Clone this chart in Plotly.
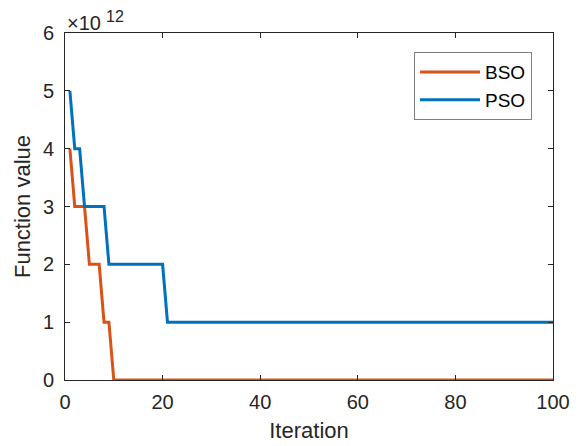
import plotly.graph_objects as go

iterations = list(range(1, 101))
bso_values = [4, 3, 3, 3, 2, 2, 2, 1, 1] + [0] * 91
pso_values = [5, 4, 4, 3, 3, 3, 3, 3] + [2] * 12 + [1] * 80
scale = 1e12
y_tick_vals = [0, 1, 2, 3, 4, 5, 6]
x_tick_vals = [0, 20, 40, 60, 80, 100]

axis_color = "#262626"
font_family = "Liberation Sans, Arial, Helvetica, sans-serif"

fig = go.Figure()
fig.add_trace(go.Scatter(x=iterations, y=[v * scale for v in bso_values], mode="lines",
                         name="BSO", line=dict(color="#D95319", width=3)))
fig.add_trace(go.Scatter(x=iterations, y=[v * scale for v in pso_values], mode="lines",
                         name="PSO", line=dict(color="#0072BD", width=3)))

fig.update_layout(
    width=581, height=446,
    margin=dict(l=57, r=36, t=25, b=74),
    paper_bgcolor="white", plot_bgcolor="white",
    font=dict(family=font_family, size=20, color=axis_color),
    showlegend=True,
    legend=dict(x=0.957, y=0.945, xanchor="right", yanchor="top",
                bgcolor="white", bordercolor="#7f7f7f", borderwidth=1,
                font=dict(size=19, color="black"), tracegroupgap=0,
                itemwidth=60),
    annotations=[
        dict(text="×10", xref="paper", yref="paper",
             x=0.0, y=1.0, xanchor="left", yanchor="bottom",
             showarrow=False, font=dict(size=20, color=axis_color), yshift=-3, xshift=0),
        dict(text="12", xref="paper", yref="paper",
             x=0.0, y=1.0, xanchor="left", yanchor="bottom",
             showarrow=False, font=dict(size=16, color=axis_color), yshift=6, xshift=39),
    ],
)
fig.update_xaxes(range=[0, 100], tickvals=x_tick_vals, ticks="inside", ticklen=5,
                 tickcolor=axis_color, showline=True, linecolor=axis_color, linewidth=1,
                 mirror="ticks", showgrid=False, zeroline=False, ticklabelstandoff=4,
                 title=dict(text="Iteration", font=dict(size=22), standoff=10),
                 tickfont=dict(size=20))
fig.update_yaxes(range=[0, 6 * scale], tickvals=[v * scale for v in y_tick_vals],
                 ticktext=[str(v) for v in y_tick_vals], ticks="inside", ticklen=5,
                 tickcolor=axis_color, showline=True, linecolor=axis_color, linewidth=1,
                 mirror="ticks", showgrid=False, zeroline=False, ticklabelstandoff=6,
                 title=dict(text="Function value", font=dict(size=22), standoff=6),
                 tickfont=dict(size=20))

fig.write_html("out.html")
